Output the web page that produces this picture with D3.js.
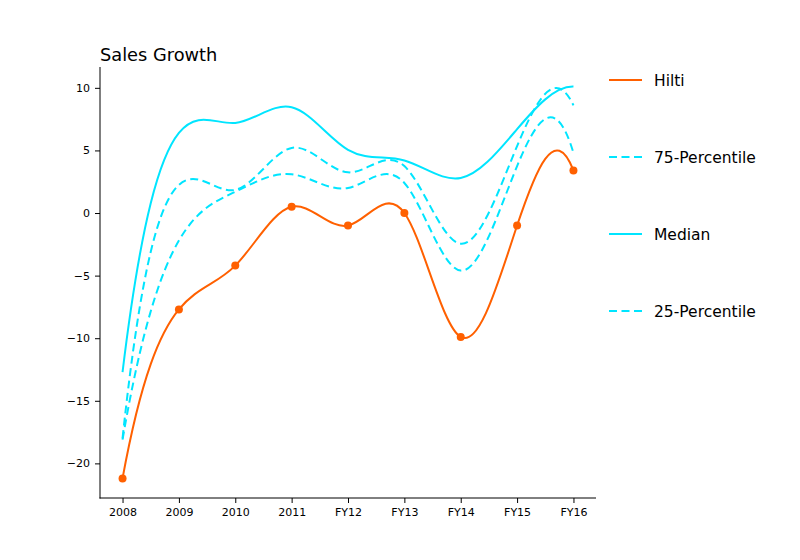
<!DOCTYPE html>
<html>
<head>
<meta charset="utf-8">
<script src="https://d3js.org/d3.v7.min.js"></script>
<style>
    body { margin: 0; background: #fff; }
    text { font-family: "DejaVu Sans", sans-serif; }
</style>
</head>
<body>
<div id="chart"></div>
<script>
// data
var categories = ["2008", "2009", "2010", "2011", "FY12", "FY13", "FY14", "FY15", "FY16"];
var hilti = [-21.2, -7.7, -4.2, 0.5, -1.0, 0.0, -9.9, -1.0, 3.4];
var pct75 = [-18.0, 2.25, 1.85, 5.2, 3.25, 3.75, -2.45, 5.35, 8.6];
var median = [-12.7, 6.4, 7.2, 8.45, 5.05, 4.2, 2.8, 6.7, 10.1];
var pct25 = [-18.1, -2.2, 1.7, 3.1, 2.0, 2.4, -4.6, 3.75, 4.8];
var yTicks = [-20, -15, -10, -5, 0, 5, 10];

var orange = "#ff6000";
var cyan = "#00e5ff";

var series = [
    { name: "Hilti", values: hilti, color: orange, dash: null, markers: true },
    { name: "75-Percentile", values: pct75, color: cyan, dash: "8,4.5", markers: false },
    { name: "Median", values: median, color: cyan, dash: null, markers: false },
    { name: "25-Percentile", values: pct25, color: cyan, dash: "8,4.5", markers: false }
];

// cubic spline with "not-a-knot" ends, drawn as a d3 curve
function NotAKnot(context) { this._context = context; }
NotAKnot.prototype = {
    areaStart: function() { this._line = 0; },
    areaEnd: function() { this._line = NaN; },
    lineStart: function() { this._x = []; this._y = []; },
    point: function(x, y) { this._x.push(+x); this._y.push(+y); },
    lineEnd: function() {
        var x = this._x, y = this._y, n = x.length, ctx = this._context;
        if (!n) return;
        ctx.moveTo(x[0], y[0]);
        if (n < 4) {
            for (var k = 1; k < n; k++) ctx.lineTo(x[k], y[k]);
            return;
        }
        var dx = [], sl = [];
        for (var i = 0; i < n - 1; i++) {
            dx.push(x[i + 1] - x[i]);
            sl.push((y[i + 1] - y[i]) / dx[i]);
        }
        var lo = new Array(n).fill(0), di = new Array(n).fill(0),
            up = new Array(n).fill(0), b = new Array(n).fill(0);
        var d0 = x[2] - x[0];
        di[0] = dx[1];
        up[0] = dx[0] + dx[1];
        b[0] = ((dx[0] + 2 * d0) * dx[1] * sl[0] + dx[0] * dx[0] * sl[1]) / d0;
        for (i = 1; i < n - 1; i++) {
            lo[i] = dx[i];
            di[i] = 2 * (dx[i - 1] + dx[i]);
            up[i] = dx[i - 1];
            b[i] = 3 * (dx[i] * sl[i - 1] + dx[i - 1] * sl[i]);
        }
        var d1 = x[n - 1] - x[n - 3];
        lo[n - 1] = dx[n - 2] + dx[n - 3];
        di[n - 1] = dx[n - 3];
        b[n - 1] = (dx[n - 2] * dx[n - 2] * sl[n - 3] + (2 * d1 + dx[n - 2]) * dx[n - 3] * sl[n - 2]) / d1;
        // thomas algorithm
        for (i = 1; i < n; i++) {
            var w = lo[i] / di[i - 1];
            di[i] -= w * up[i - 1];
            b[i] -= w * b[i - 1];
        }
        var m = new Array(n);
        m[n - 1] = b[n - 1] / di[n - 1];
        for (i = n - 2; i >= 0; i--) m[i] = (b[i] - up[i] * m[i + 1]) / di[i];
        for (i = 0; i < n - 1; i++) {
            var h = dx[i] / 3;
            ctx.bezierCurveTo(x[i] + h, y[i] + m[i] * h,
                x[i + 1] - h, y[i + 1] - m[i + 1] * h,
                x[i + 1], y[i + 1]);
        }
    }
};
function curveNotAKnot(context) { return new NotAKnot(context); }

// 1) canvas
var svg_width = 800;
var svg_height = 560;
var margin = { top: 67, right: 204, bottom: 62, left: 100 };
var chartWidth = svg_width - margin.left - margin.right;
var chartHeight = svg_height - margin.top - margin.bottom;

var svg = d3.select("#chart")
    .append("svg")
    .attr("width", svg_width)
    .attr("height", svg_height);

var chartGroup = svg.append("g")
    .attr("transform", `translate(${margin.left}, ${margin.top})`);

// 2) scales (matplotlib style 5% padding)
var n = categories.length;
var xPad = (n - 1) * 0.05;
var xScale = d3.scaleLinear()
    .domain([-xPad, n - 1 + xPad])
    .range([0, chartWidth]);

var allValues = d3.merge(series.map(s => s.values));
var yMin = d3.min(allValues), yMax = d3.max(allValues);
var yPad = (yMax - yMin) * 0.05;
var yScale = d3.scaleLinear()
    .domain([yMin - yPad, yMax + yPad])
    .range([chartHeight, 0]);

// 3) axes
var bottom_axis = d3.axisBottom(xScale)
    .tickValues(d3.range(n))
    .tickFormat(i => categories[i])
    .tickSizeOuter(0)
    .tickSize(5)
    .tickPadding(5);

var left_axis = d3.axisLeft(yScale)
    .tickValues(yTicks)
    .tickFormat(d3.format("d"))
    .tickSizeOuter(0)
    .tickSize(5)
    .tickPadding(5);

var xAxisG = chartGroup.append("g")
    .attr("transform", `translate(0, ${chartHeight})`)
    .call(bottom_axis);

var yAxisG = chartGroup.append("g")
    .call(left_axis);

[xAxisG, yAxisG].forEach(function(g) {
    g.select(".domain").remove();
    g.selectAll(".tick line").attr("stroke", "#000");
    g.selectAll(".tick text")
        .attr("fill", "#000")
        .style("font-size", "11px");
});

// spines: left and bottom only
chartGroup.append("line")
    .attr("x1", 0).attr("x2", 0)
    .attr("y1", 0).attr("y2", chartHeight + 0.5)
    .attr("stroke", "#000");
chartGroup.append("line")
    .attr("x1", -0.5).attr("x2", chartWidth)
    .attr("y1", chartHeight).attr("y2", chartHeight)
    .attr("stroke", "#000");

// 4) lines
var line = d3.line()
    .x((d, i) => xScale(i))
    .y(d => yScale(d))
    .curve(curveNotAKnot);

series.slice().reverse().forEach(function(s) {
    chartGroup.append("path")
        .datum(s.values)
        .attr("d", line)
        .attr("fill", "none")
        .attr("stroke", s.color)
        .attr("stroke-width", 2)
        .attr("stroke-dasharray", s.dash);

    if (s.markers) {
        chartGroup.append("g")
            .selectAll("circle")
            .data(s.values)
            .enter()
            .append("circle")
            .attr("cx", (d, i) => xScale(i))
            .attr("cy", d => yScale(d))
            .attr("r", 4)
            .attr("fill", s.color);
    }
});

// 5) title
svg.append("text")
    .attr("x", margin.left)
    .attr("y", 61)
    .style("font-size", "17.8px")
    .attr("fill", "#000")
    .text("Sales Growth");

// 6) legend
var legend = svg.append("g")
    .attr("transform", "translate(609, 80)");

var items = legend.selectAll("g")
    .data(series)
    .enter()
    .append("g")
    .attr("transform", (d, i) => `translate(0, ${i * 77})`);

items.append("line")
    .attr("x1", 0)
    .attr("x2", 33)
    .attr("stroke", d => d.color)
    .attr("stroke-width", 2)
    .attr("stroke-dasharray", d => d.dash);

items.append("text")
    .attr("x", 45)
    .attr("dy", "0.36em")
    .style("font-size", "15.5px")
    .attr("fill", "#000")
    .text(d => d.name);
</script>
</body>
</html>
